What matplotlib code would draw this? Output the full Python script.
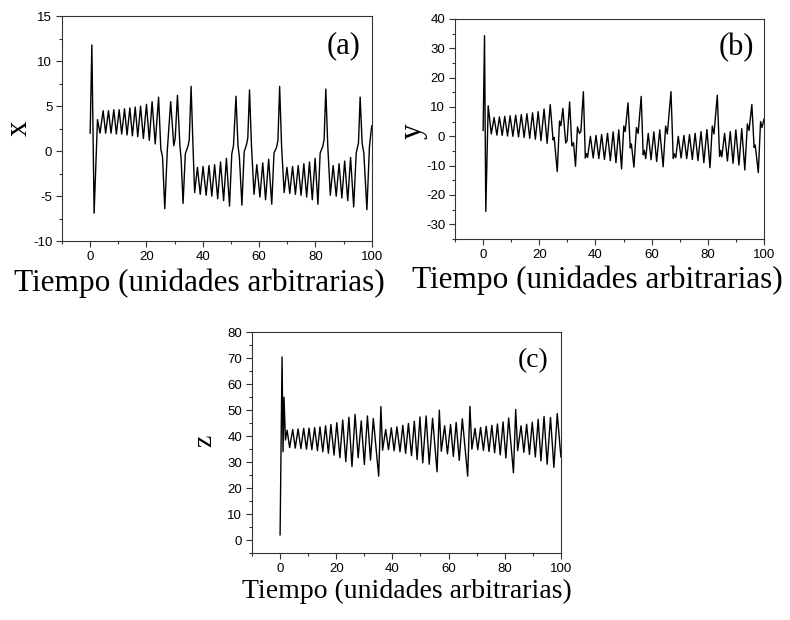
#!/usr/bin/env python3
"""Time series of the three state variables (x, y, z) over 100 time units."""

import matplotlib

matplotlib.use("Agg")
import matplotlib.pyplot as plt
from matplotlib.ticker import MultipleLocator

plt.rcParams["axes.unicode_minus"] = False

# x(t): extrema and shoulder points of the trace
X_TIME = [
    0.0, 0.6, 1.4, 2.6, 3.5, 4.6, 5.5, 6.5, 7.4, 8.4, 9.3, 10.3, 11.2, 12.2, 13.1,
    14.1, 15.0, 16.0, 16.9, 17.9, 18.9, 20.0, 21.0, 22.0, 23.1, 24.3,
    25.1, 25.7, 26.5, 27.4, 28.6, 29.7, 30.2, 31.0, 31.9, 32.3, 33.0, 33.8, 34.8,
    35.2, 35.85, 36.5, 37.1,
    38.1, 39.1, 40.1, 41.2, 42.2, 43.2, 44.2, 45.3, 46.3, 47.4, 48.4, 49.5,
    50.3, 50.9, 51.8, 52.5, 53.0, 53.9, 54.7, 55.6, 56.0, 56.6, 57.3, 58.2,
    59.2, 60.3, 61.3, 62.3, 63.4, 64.5,
    65.3, 66.2, 66.7, 67.3, 68.0, 68.9,
    69.9, 70.9, 71.9, 72.9, 73.9, 74.9, 75.9, 76.9, 77.9, 78.9, 79.9, 80.9,
    81.7, 82.6, 83.1, 83.7, 84.4, 85.3,
    86.3, 87.4, 88.4, 89.4, 90.4, 91.5, 92.5, 93.6,
    94.5, 95.3, 95.9, 96.6, 97.2, 98.3, 99.2, 100.0,
]
X_VALUE = [
    2.0, 11.8, -6.9, 3.5, 2.0, 4.5, 2.0, 4.5, 2.0, 4.6, 1.9, 4.6, 1.9, 4.7, 1.8,
    4.8, 1.7, 4.9, 1.6, 5.0, 1.4, 5.2, 1.2, 5.5, 0.8, 6.0,
    0.2, -0.6, -6.4, 0.1, 5.5, 0.6, 1.4, 6.2, 0.5, -0.8, -5.8, -0.3, 0.6,
    1.3, 7.2, 0.8, -4.6,
    -1.8, -4.8, -1.7, -4.9, -1.6, -5.0, -1.5, -5.3, -1.2, -5.5, -0.8, -6.1,
    -0.3, 0.6, 6.1, 0.6, -0.6, -6.0, -0.1, 0.8, 1.5, 6.8, 0.6, -4.8,
    -1.5, -5.1, -1.3, -5.4, -0.9, -5.9,
    -0.2, 0.4, 1.2, 7.2, 0.5, -4.6,
    -1.8, -4.7, -1.7, -4.8, -1.6, -4.9, -1.4, -5.1, -1.2, -5.4, -0.8, -5.9,
    -0.2, 0.5, 1.3, 6.9, 0.6, -4.9,
    -1.6, -5.0, -1.4, -5.2, -1.1, -5.5, -0.7, -6.2,
    -0.2, 0.9, 6.0, 0.9, -0.2, -6.5, 0.5, 2.8,
]

# y(t)
Y_TIME = [
    0.0, 0.5, 0.95, 1.8, 2.9, 3.9, 4.9, 5.8, 6.8, 7.7, 8.7, 9.6, 10.6, 11.6, 12.6,
    13.6, 14.6, 15.6, 16.6, 17.6, 18.6, 19.6, 20.6, 21.7, 22.8, 23.9,
    24.9, 25.3, 26.4, 27.2, 27.7, 28.4, 29.4, 29.9, 30.8, 31.6, 32.2, 32.9,
    33.6, 34.3, 34.8, 35.7,
    36.4, 36.8, 37.2, 38.2, 39.2, 40.2, 41.2, 42.2, 43.2, 44.3, 45.3, 46.3,
    47.3, 48.3, 49.3,
    50.1, 50.6, 51.6, 52.4, 52.8, 53.7, 54.6, 55.2, 56.3,
    57.0, 57.4, 57.9, 58.8, 59.8, 60.8, 61.8, 62.9, 64.1,
    65.0, 65.6, 66.9,
    67.7, 68.1, 68.6, 69.5, 70.5, 71.5, 72.5, 73.5, 74.5, 75.5, 76.5, 77.6,
    78.6, 79.7, 80.8,
    81.6, 82.2, 83.4,
    84.2, 84.6, 85.0, 86.0, 87.0, 88.0, 89.0, 90.0, 91.1, 92.1, 93.2,
    94.1, 94.7, 95.7, 96.5, 96.9, 98.0, 98.8, 99.3, 100.0,
]
Y_VALUE = [
    2.0, 34.3, -25.6, 10.4, 0.8, 6.4, 0.4, 6.6, 0.3, 6.8, 0.1, 7.0, 0.0, 7.2, -0.2,
    7.4, -0.4, 7.7, -0.7, 8.0, -1.0, 8.4, -1.5, 9.3, -2.4, 10.8,
    -1.2, -0.4, -12.0, 5.2, 3.6, 9.5, -2.3, -1.5, 11.7, -3.3, -2.2, -10.2,
    3.2, 1.0, 1.6, 15.2,
    -7.4, -5.9, -7.2, 0.0, -7.4, 0.3, -7.6, 0.6, -7.9, 1.0, -8.3, 1.5,
    -9.0, 2.2, -11.1,
    3.5, 1.6, 11.4, -4.0, -2.6, -10.5, 3.0, 1.0, 13.6,
    -6.3, -4.8, -7.6, 1.0, -8.0, 1.5, -8.6, 2.2, -10.4,
    3.5, 0.8, 15.2,
    -7.5, -6.0, -7.3, 0.0, -7.4, 0.3, -7.6, 0.6, -7.9, 1.0, -8.3, 1.6,
    -9.0, 2.3, -10.7,
    3.5, 0.8, 14.0,
    -6.8, -4.8, -7.0, 1.0, -8.4, 1.6, -9.2, 2.2, -9.8, 2.6, -11.5,
    4.2, 2.0, 10.8, -3.8, -3.0, -12.4, 5.0, 3.0, 5.8,
]

# z(t)
Z_TIME = [
    0.0, 0.7, 1.05, 1.4, 1.9, 2.5, 3.4, 4.5, 5.4, 6.4, 7.4, 8.4, 9.4, 10.3, 11.3,
    12.3, 13.3, 14.2, 15.2, 16.2, 17.2, 18.1, 19.2, 20.2, 21.3, 22.3, 23.4, 24.5,
    25.6, 26.7, 27.8, 28.9, 30.0, 31.1, 32.2, 33.2, 35.1, 35.9, 36.5,
    37.6, 38.6, 39.6, 40.6, 41.6, 42.7, 43.7, 44.7, 45.7, 46.8, 47.8, 48.8, 49.8,
    50.8, 52.0, 53.1, 54.3, 55.9, 56.7, 57.4,
    58.6, 59.6, 60.7, 61.7, 62.7, 63.8, 64.9, 66.8, 67.6, 68.3,
    69.4, 70.4, 71.4, 72.4, 73.4, 74.4, 75.4, 76.4, 77.4, 78.4, 79.4, 80.4, 81.4,
    83.1, 83.9, 84.6,
    85.8, 86.8, 87.8, 88.8, 89.8, 90.9, 91.9, 92.9, 94.0, 95.1, 96.3, 97.5, 98.7,
    100.0,
]
Z_VALUE = [
    2.0, 70.5, 34.0, 55.0, 38.5, 42.3, 35.6, 42.6, 35.4, 42.8, 35.2, 43.0, 35.0, 43.1, 34.8,
    43.3, 34.4, 43.6, 34.0, 44.0, 33.4, 44.5, 32.7, 45.2, 31.7, 46.2, 30.2, 47.3,
    28.3, 48.4, 31.7, 45.9, 29.1, 47.8, 30.8, 46.8, 24.6, 51.4, 34.6,
    42.6, 34.8, 43.2, 34.4, 43.6, 34.0, 44.2, 33.4, 44.9, 32.5, 45.8, 31.0, 47.4,
    29.7, 47.8, 29.2, 46.9, 26.3, 50.0, 34.2,
    44.0, 33.2, 44.5, 32.2, 45.3, 30.7, 46.7, 24.6, 51.5, 35.0,
    43.0, 34.8, 43.4, 34.5, 43.8, 34.1, 44.2, 33.6, 44.7, 32.8, 45.5, 31.6, 47.0,
    25.9, 50.3, 34.4,
    44.0, 33.8, 44.6, 33.0, 45.4, 32.0, 46.5, 30.5, 47.6, 29.2, 47.2, 28.0, 48.7,
    32.0,
]

XLABEL = "Tiempo (unidades arbitrarias)"
SERIF = "Liberation Serif"
SANS = "Liberation Sans"


def draw_panel(fig, rect, t, v, ylim, ymajor, yminor, ylabel, tag,
               ylabel_xy, xlabel_xy, label_size, tag_size):
    ax = fig.add_axes(rect)
    ax.plot(t, v, color="black", linewidth=1.0)
    ax.set_xlim(-10, 100)
    ax.set_ylim(*ylim)

    ax.xaxis.set_major_locator(MultipleLocator(20))
    ax.xaxis.set_minor_locator(MultipleLocator(10))
    ax.yaxis.set_major_locator(MultipleLocator(ymajor))
    ax.yaxis.set_minor_locator(MultipleLocator(yminor))
    ax.tick_params(which="both", direction="out", top=False, right=False,
                   labelsize=9.5, width=0.8, color="#333333", pad=3)
    ax.tick_params(which="major", length=4)
    ax.tick_params(which="minor", length=2.5)
    for lab in ax.get_xticklabels() + ax.get_yticklabels():
        lab.set_family(SANS)
    for spine in ax.spines.values():
        spine.set_linewidth(0.8)
        spine.set_color("#333333")

    # axis titles are placed as plain text so each panel can sit where it should
    ax.text(*xlabel_xy, XLABEL, transform=ax.transAxes, family=SERIF,
            fontsize=label_size, ha="center", va="center")
    ax.text(*ylabel_xy, ylabel, transform=ax.transAxes, family=SERIF,
            fontsize=label_size, ha="center", va="center", rotation=90)
    ax.text(0.91, 0.87, tag, transform=ax.transAxes, family=SERIF,
            fontsize=tag_size, ha="center", va="center")
    return ax


def main() -> None:
    fig = plt.figure(figsize=(7.9, 6.2), dpi=100)

    draw_panel(fig, [0.0785, 0.611, 0.392, 0.363], X_TIME, X_VALUE,
               (-10, 15), 5, 2.5, "x", "(a)",
               ylabel_xy=(-0.139, 0.50), xlabel_xy=(0.445, -0.187),
               label_size=22.5, tag_size=22)
    draw_panel(fig, [0.576, 0.6145, 0.391, 0.355], Y_TIME, Y_VALUE,
               (-35, 40), 10, 5, "y", "(b)",
               ylabel_xy=(-0.135, 0.49), xlabel_xy=(0.460, -0.186),
               label_size=22.5, tag_size=22)
    draw_panel(fig, [0.319, 0.108, 0.391, 0.356], Z_TIME, Z_VALUE,
               (-5, 80), 10, 5, "z", "(c)",
               ylabel_xy=(-0.152, 0.51), xlabel_xy=(0.50, -0.175),
               label_size=20, tag_size=20)

    fig.savefig("out.png", dpi=100)


if __name__ == "__main__":
    main()
